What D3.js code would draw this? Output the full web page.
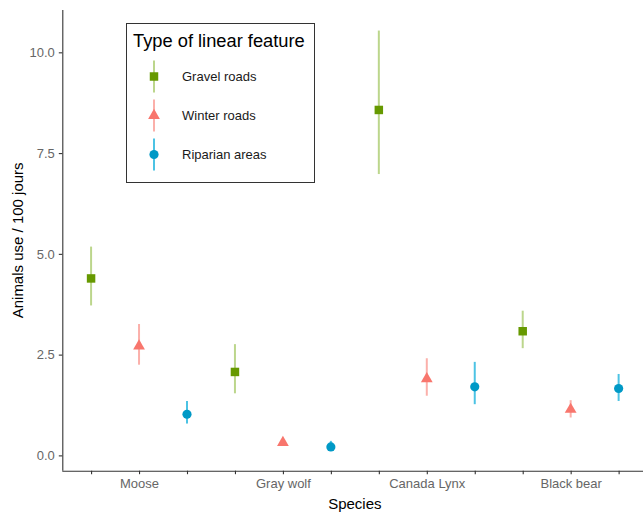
<!DOCTYPE html>
<html>
<head>
<meta charset="utf-8">
<script src="https://cdn.jsdelivr.net/npm/d3@7"></script>
<style>
  html, body { margin: 0; padding: 0; background: #fff; }
  svg { display: block; font-family: "Liberation Sans", Arial, sans-serif; }
</style>
</head>
<body>
<svg id="chart" width="643" height="513"></svg>
<script>
// Species on the x axis and linear feature types (dodged within species)
const species = ["Moose", "Gray wolf", "Canada Lynx", "Black bear"];
const features = ["Gravel roads", "Winter roads", "Riparian areas"];

// Mean use (animals / 100 days) and interval bounds, one entry per species
const gravelMean = [4.39, 2.07, 8.57, 3.08];
const gravelLow  = [3.72, 1.54, 6.98, 2.66];
const gravelHigh = [5.18, 2.76, 10.54, 3.59];

const winterMean = [2.71, 0.32, 1.90, 1.14];
const winterLow  = [2.25, 0.27, 1.48, 0.94];
const winterHigh = [3.26, 0.37, 2.41, 1.37];

const riparianMean = [1.02, 0.21, 1.70, 1.66];
const riparianLow  = [0.79, 0.13, 1.27, 1.35];
const riparianHigh = [1.35, 0.36, 2.32, 2.02];

const yTicks = [0, 2.5, 5, 7.5, 10];

const series = [
  { name: features[0], mean: gravelMean, low: gravelLow, high: gravelHigh,
    color: "#669900", barColor: "#bcd68c", shape: d3.symbolSquare, size: 72 },
  { name: features[1], mean: winterMean, low: winterLow, high: winterHigh,
    color: "#F8766D", barColor: "#fbb0aa", shape: d3.symbolTriangle, size: 60 },
  { name: features[2], mean: riparianMean, low: riparianLow, high: riparianHigh,
    color: "#0099C6", barColor: "#4cc3e4", shape: d3.symbolCircle, size: 66 }
];

// Flatten into one row per point; position = species * 3 + feature
const rows = [];
series.forEach((s, fi) => {
  species.forEach((sp, si) => {
    rows.push({ species: sp, feature: s.name, pos: si * 3 + fi,
      mean: s.mean[si], low: s.low[si], high: s.high[si], s });
  });
});

const svg = d3.select("#chart");
const plotLeft = 62.3, plotRight = 647.4, plotTop = 10, plotBottom = 470.7;

const x = d3.scaleLinear().domain([-0.6, 11.6]).range([plotLeft, plotRight]);
const y = d3.scaleLinear().domain([-0.38, 11.05]).range([plotBottom, plotTop]);

const axisColor = "#333333";
const tickText = "#666666";

// Y axis
const yAxis = svg.append("g")
  .attr("transform", `translate(${plotLeft},0)`)
  .call(d3.axisLeft(y).tickValues(yTicks).tickFormat(d3.format(".1f"))
    .tickSizeInner(3.5).tickSizeOuter(0).tickPadding(4));
yAxis.select(".domain").attr("stroke", axisColor).attr("stroke-width", 1.1)
  .attr("d", `M0.5,${plotTop}V${plotBottom}`);
yAxis.selectAll(".tick line").attr("stroke", axisColor).attr("stroke-width", 1.1);
yAxis.selectAll(".tick text").attr("fill", tickText).style("font-size", "13px")
  .style("font-family", "Liberation Sans, Arial, sans-serif");

// X axis: a tick at every dodged position, a species label at each middle one
const xAxis = svg.append("g")
  .attr("transform", `translate(0,${plotBottom})`)
  .call(d3.axisBottom(x).tickValues(d3.range(12))
    .tickFormat(i => (i % 3 === 1 ? species[Math.floor(i / 3)] : ""))
    .tickSizeInner(3.5).tickSizeOuter(0).tickPadding(5));
xAxis.select(".domain").attr("stroke", axisColor).attr("stroke-width", 1.1)
  .attr("d", `M${plotLeft},0.5H${plotRight}`);
xAxis.selectAll(".tick line").attr("stroke", axisColor).attr("stroke-width", 1.1);
xAxis.selectAll(".tick text").attr("fill", tickText).style("font-size", "13px")
  .style("font-family", "Liberation Sans, Arial, sans-serif");

// Axis titles
svg.append("text")
  .attr("x", (plotLeft + plotRight) / 2).attr("y", 508.5)
  .attr("text-anchor", "middle")
  .style("font-size", "15px").attr("fill", "#000")
  .text("Species");

svg.append("text")
  .attr("transform", `translate(23,${(plotTop + plotBottom) / 2}) rotate(-90)`)
  .attr("text-anchor", "middle")
  .style("font-size", "15px").attr("fill", "#000")
  .text("Animals use / 100 jours");

// Interval bars
svg.append("g").selectAll("line").data(rows).join("line")
  .attr("x1", d => x(d.pos)).attr("x2", d => x(d.pos))
  .attr("y1", d => y(d.low)).attr("y2", d => y(d.high))
  .attr("stroke", d => d.s.barColor).attr("stroke-width", 2);

// Point estimates
svg.append("g").selectAll("path").data(rows).join("path")
  .attr("transform", d => `translate(${x(d.pos)},${y(d.mean)})`)
  .attr("d", d => d3.symbol().type(d.s.shape).size(d.s.size)())
  .attr("fill", d => d.s.color);

// Legend
const legend = svg.append("g");
legend.append("rect")
  .attr("x", 126.5).attr("y", 23.5).attr("width", 188).attr("height", 159)
  .attr("fill", "#fff").attr("stroke", "#333").attr("stroke-width", 1);
legend.append("text")
  .attr("x", 133).attr("y", 46.5)
  .style("font-size", "18.3px").attr("fill", "#000")
  .text("Type of linear feature");

const keyY = [76.5, 115.5, 154.5];
series.forEach((s, i) => {
  const g = legend.append("g").attr("transform", `translate(154,${keyY[i]})`);
  g.append("line").attr("x1", 0).attr("x2", 0).attr("y1", -16).attr("y2", 16)
    .attr("stroke", s.barColor).attr("stroke-width", 2);
  g.append("path").attr("d", d3.symbol().type(s.shape).size(s.size)())
    .attr("fill", s.color);
  legend.append("text")
    .attr("x", 182).attr("y", keyY[i] + 4.6)
    .style("font-size", "13px").attr("fill", "#1a1a1a")
    .text(s.name);
});
</script>
</body>
</html>
